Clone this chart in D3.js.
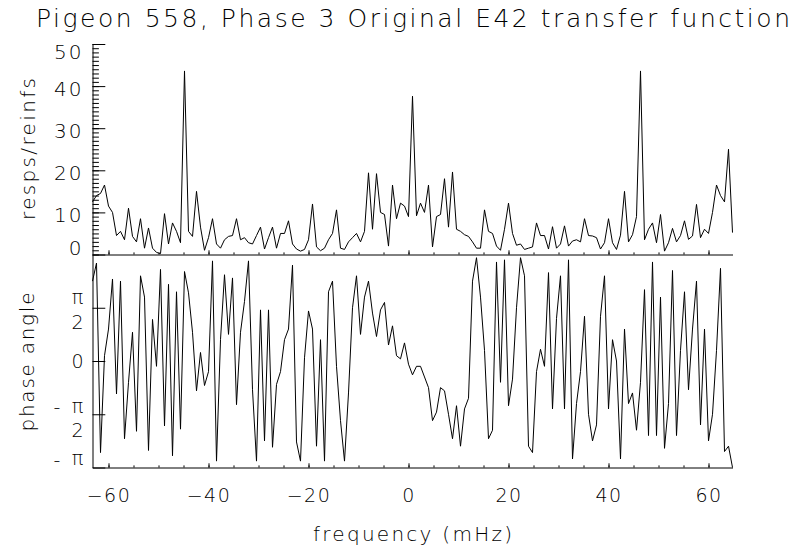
<!DOCTYPE html>
<html>
<head>
<meta charset="utf-8">
<script src="https://cdn.jsdelivr.net/npm/d3@7"></script>
<style>
    body { margin: 0; background: #fff; }
    svg { display: block; font-family: "DejaVu Sans", sans-serif; font-weight: 200; }
</style>
</head>
<body>
<svg id="chart" width="794" height="550"></svg>
<script>
const titleText = 'Pigeon 558, Phase 3 Original E42 transfer function';
const xLabel = 'frequency (mHz)';
const ampLabel = 'resps/reinfs';
const phaseLabel = 'phase angle';

// frequency grid (mHz): first bin and bin width
const freqStart = -63.2;
const freqStep = 0.8;

// transfer function gain
const respsPerReinf = [
    12.5, 14, 14.5, 16.5, 11.5, 10, 4.5, 5.5, 3.5, 11,
    4.3, 3, 8.5, 1.5, 6.3, 1.5, 0.5, 0.2, 9.7, 2.5,
    7.5, 5.5, 2.8, 43.6, 5.5, 4.3, 15, 6.5, 1, 4,
    8.5, 2.5, 1.5, 3.5, 4.3, 4.5, 8.5, 3.5, 4, 2.8,
    2.5, 4.5, 6.5, 1.3, 4, 6.5, 1.5, 5, 5, 8,
    2.5, 1.3, 0.8, 1.2, 3.5, 12, 1.8, 0.9, 1.5, 3.5,
    5, 10.6, 1.5, 1.2, 3, 4, 5, 3, 5.5, 19.4,
    6, 19.2, 10, 9.5, 2, 16.5, 8.5, 12.2, 11.5, 9,
    37.6, 9.2, 12.2, 10, 16.5, 1.8, 9, 9.5, 18, 6.5,
    19.6, 6, 5.5, 4.7, 4.3, 3, 1.5, 1.5, 10.6, 5.5,
    5, 2, 1, 6, 12.2, 5, 2.2, 2.5, 1.2, 1.5,
    1.8, 7.5, 4.5, 4.5, 1.3, 6.6, 1.5, 2.5, 6.8, 2,
    3.2, 3.5, 3, 8.5, 4.5, 4.4, 4, 1.3, 2.8, 8.5,
    2.8, 1.2, 4.6, 15, 3, 4.7, 9, 43.6, 3.5, 6,
    7.5, 2.8, 9.5, 0.8, 2.8, 6.2, 3, 4.5, 8, 3.6,
    4.4, 11.9, 4, 6, 5, 10, 16.5, 14, 12.5, 25,
    5.2
];

// phase angle in units of pi
const phaseOverPi = [
    0.75, 0.92, -0.86, 0.05, 0.3, 0.77, -0.31, 0.75, -0.73, -0.2,
    0.27, -0.66, 0.8, 0.6, -0.84, 0.39, -0.05, 0.86, -0.61, 0.72,
    -0.89, 0.65, -0.64, 0.84, 0.64, 0.27, -0.28, 0.08, -0.23, -0.1,
    0.94, -0.94, 0.2, 0.81, 0.25, 0.78, -0.41, 0.27, 0.56, 0.94,
    -0.27, -0.94, 0.48, -0.75, 0.48, -0.81, -0.22, -0.1, 0.2, 0.3,
    0.9, -0.76, -0.94, 0.03, 0.47, 0.3, -0.8, 0.2, -0.94, 0.65,
    0.75, -0.05, -0.56, -0.94, -0.3, 0.5, 0.8, 0.25, 0.6, 0.75,
    0.45, 0.23, 0.48, 0.55, 0.15, 0.33, 0.05, 0.02, 0.17, -0.03,
    -0.13, -0.05, -0.05, -0.15, -0.25, -0.56, -0.48, -0.25, -0.28, -0.5,
    -0.73, -0.42, -0.8, -0.45, -0.35, 0.75, 0.97, 0.6, 0.1, -0.73,
    -0.65, 0.93, -0.2, 0.95, -0.42, -0.17, 0.5, 0.97, 0.8, -0.8,
    -0.86, -0.1, 0.11, -0.05, 0.83, -0.45, 0.4, 0.8, -0.45, 0.95,
    -0.92, -0.4, -0.1, 0.42, -0.5, -0.75, -0.6, 0.42, 0.8, -0.45,
    0.2, 0, -0.92, 0.3, -0.4, -0.3, -0.65, -0.2, 0.67, -0.7,
    0.93, -0.7, 0.6, -0.82, -0.4, 0.85, -0.7, 0.1, 0.65, -0.27,
    0.3, 0.75, -0.6, 0.3, -0.75, -0.5, 0.1, 0.87, -0.85, -0.8,
    -1
];

const freqTicks = [-60, -40, -20, 0, 20, 40, 60];
const freqMinorTicks = [-60, -55, -50, -45, -40, -35, -30, -25, -20, -15, -10, -5, 0,
    5, 10, 15, 20, 25, 30, 35, 40, 45, 50, 55, 60];
const ampTicks = [0, 10, 20, 30, 40, 50];
const phaseTicks = [0.5, 0, -0.5, -1];

const freq = respsPerReinf.map((d, i) => +(freqStart + i * freqStep).toFixed(1));

const svg = d3.select('#chart');
const left = 92.5;
const right = 732.5;
const font = '"DejaVu Sans", sans-serif';

const x = d3.scaleLinear().domain([freq[0], freq[freq.length - 1]]).range([left, right]);
const yAmp = d3.scaleLinear().domain([0, 50]).range([254.5, 44]);
const yPhase = d3.scaleLinear().domain([-1, 1]).range([467.5, 254.5]);

function styleAxis(g) {
    g.attr('font-family', font).attr('font-weight', 200);
    g.selectAll('line').attr('stroke', '#000');
    g.selectAll('path.domain').attr('stroke', '#000');
}

// title
svg.append('text')
    .attr('x', 413)
    .attr('y', 27)
    .attr('text-anchor', 'middle')
    .attr('font-size', 25)
    .attr('textLength', 754)
    .attr('lengthAdjust', 'spacing')
    .text(titleText);

// ---- upper panel: gain ----
const ampMinor = svg.append('g')
    .attr('transform', `translate(${left},0)`)
    .call(d3.axisLeft(yAmp).tickValues(d3.range(0, 51)).tickSize(-6.4).tickFormat(''))
    .call(styleAxis);
ampMinor.select('path.domain').remove();

svg.append('g')
    .attr('transform', `translate(${left},0)`)
    .call(d3.axisLeft(yAmp).tickValues(ampTicks).tickSize(-12.8).tickSizeOuter(0).tickPadding(9))
    .call(styleAxis)
    .call(g => g.selectAll('text')
        .attr('font-size', 20)
        .attr('letter-spacing', 2)
        .attr('fill', '#000')
        .attr('dy', d => d === 50 ? '0.72em' : d === 0 ? '0.02em' : '0.47em'));

const ampX = svg.append('g')
    .attr('transform', 'translate(0,254.5)')
    .call(d3.axisBottom(x).tickValues(freqMinorTicks).tickSize(-2.1).tickSizeOuter(0).tickFormat(''))
    .call(styleAxis);
svg.append('g')
    .attr('transform', 'translate(0,254.5)')
    .call(d3.axisBottom(x).tickValues(freqTicks).tickSize(-4.2).tickFormat(''))
    .call(styleAxis)
    .call(g => g.select('path.domain').remove());

svg.append('path')
    .datum(respsPerReinf)
    .attr('fill', 'none')
    .attr('stroke', '#000')
    .attr('stroke-width', 1)
    .attr('stroke-linejoin', 'miter')
    .attr('d', d3.line().x((d, i) => x(freq[i])).y(d => yAmp(d)));

svg.append('text')
    .attr('transform', `translate(35,149) rotate(-90)`)
    .attr('text-anchor', 'middle')
    .attr('font-size', 20)
    .attr('textLength', 142)
    .attr('lengthAdjust', 'spacing')
    .text(ampLabel);

// ---- lower panel: phase ----
svg.append('g')
    .attr('transform', `translate(${left},0)`)
    .call(d3.axisLeft(yPhase).tickValues(phaseTicks).tickSize(-12.8).tickSizeOuter(0).tickFormat(''))
    .call(styleAxis);

const phaseLabels = svg.append('g')
    .attr('font-size', 19)
    .attr('text-anchor', 'middle');

phaseTicks.forEach(p => {
    const y = yPhase(p);
    const lab = phaseLabels.append('g');
    if (p === 0) {
        lab.append('text').attr('x', 77.5).attr('y', y).attr('dy', '0.36em').text('0');
        return;
    }
    const frac = Math.abs(p) === 0.5;
    const piY = frac ? y + (p > 0 ? -9 : -7) : y - 7.5;
    lab.append('text').attr('x', 77.5).attr('y', piY).attr('dy', '0.28em').text('π');
    if (frac) lab.append('text').attr('x', 77.5).attr('y', piY + 23).attr('dy', '0.36em').text('2');
    if (p < 0) lab.append('text').attr('x', 57).attr('y', piY + 1).attr('dy', '0.3em').text('-');
});

svg.append('g')
    .attr('transform', 'translate(0,467.5)')
    .call(d3.axisBottom(x).tickValues(freqMinorTicks).tickSize(-2.1).tickSizeOuter(0).tickFormat(''))
    .call(styleAxis);
svg.append('g')
    .attr('transform', 'translate(0,467.5)')
    .call(d3.axisBottom(x).tickValues(freqTicks).tickSize(-4.2).tickPadding(21))
    .call(styleAxis)
    .call(g => g.select('path.domain').remove())
    .call(g => g.selectAll('text')
        .attr('font-size', 19)
        .attr('letter-spacing', 1.5)
        .attr('fill', '#000'));

svg.append('path')
    .datum(phaseOverPi)
    .attr('fill', 'none')
    .attr('stroke', '#000')
    .attr('stroke-width', 1)
    .attr('d', d3.line().x((d, i) => x(freq[i])).y(d => yPhase(d)));

svg.append('text')
    .attr('transform', `translate(33.5,362) rotate(-90)`)
    .attr('text-anchor', 'middle')
    .attr('font-size', 20)
    .attr('textLength', 139)
    .attr('lengthAdjust', 'spacing')
    .text(phaseLabel);

svg.append('text')
    .attr('x', 412.5)
    .attr('y', 541)
    .attr('text-anchor', 'middle')
    .attr('font-size', 20)
    .attr('textLength', 199)
    .attr('lengthAdjust', 'spacing')
    .text(xLabel);
</script>
</body>
</html>
